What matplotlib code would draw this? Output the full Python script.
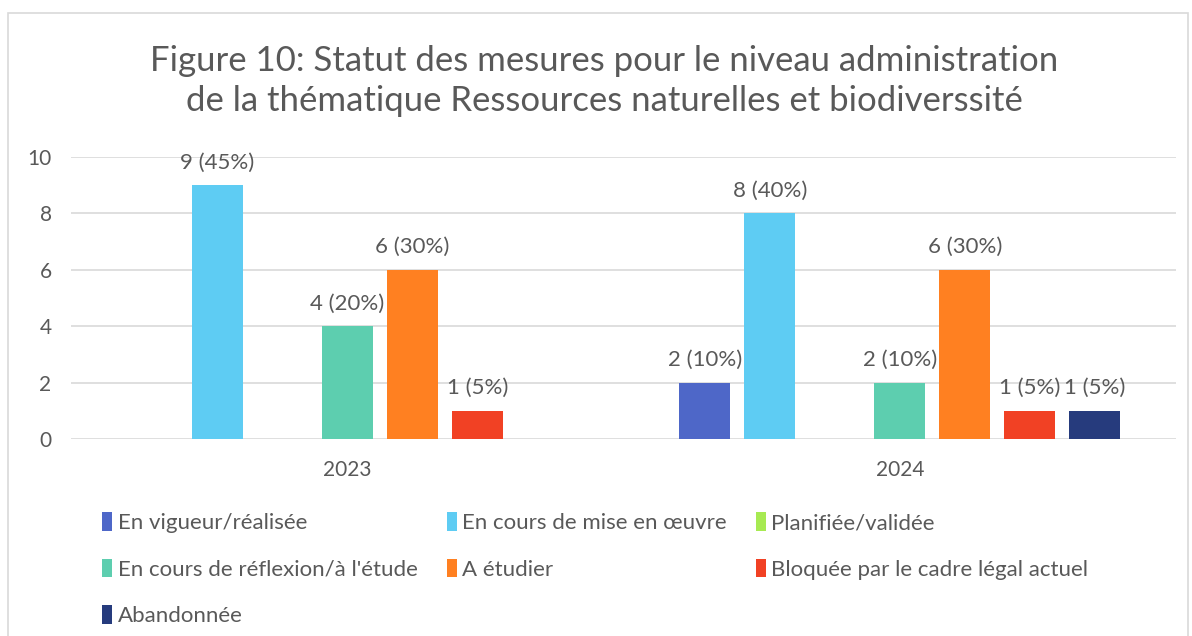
import numpy as np
import matplotlib
matplotlib.use("Agg")
from matplotlib import pyplot as plt
from matplotlib.patches import Rectangle

# données
years = ["2023", "2024"]
series = ["En vigueur/réalisée", "En cours de mise en œuvre", "Planifiée/validée",
          "En cours de réflexion/à l'étude", "A étudier",
          "Bloquée par le cadre légal actuel", "Abandonnée"]
vals_2023 = [np.nan, 9, np.nan, 4, 6, 1, np.nan]
vals_2024 = [2, 8, np.nan, 2, 6, 1, 1]
colors = ["#4E67C8", "#5ECCF3", "#A7EA52", "#5DCEAF", "#FF8021", "#F14124", "#263B7D"]
total = 20

plt.rcParams['font.family'] = ['Lato', 'DejaVu Sans']
txt = "#595959"

fig = plt.figure(figsize=(11.92, 6.36), dpi=100)
ax = fig.add_axes([0.0596, 0.3097, 0.9270, 0.4434])

data = np.array([vals_2023, vals_2024])
x = np.arange(len(years))
step = 0.1176
w = 0.0923
handles = []
for i, name in enumerate(series):
    pos = x + (i - 3) * step
    v = data[:, i]
    b = ax.bar(pos, v, width=w, color=colors[i], label=name, zorder=3)
    handles.append(b)
    for p, val in zip(pos, v):
        if not np.isnan(val):
            ax.text(p, val + 0.45, f"{int(val)} ({int(round(val / total * 100))}%)",
                    ha="center", va="bottom", fontsize=16, color=txt)

ax.set_xlim(-0.5, 1.5)
ax.set_ylim(0, 10)
ax.set_yticks(range(0, 11, 2))
ax.set_xticks(x)
ax.set_xticklabels(years)
ax.tick_params(length=0, labelsize=15, colors=txt)
ax.tick_params(axis="y", pad=14)
ax.tick_params(axis="x", pad=15)
ax.grid(axis="y", color="#D9D9D9", linewidth=1.2, zorder=0)
for s in ax.spines.values():
    s.set_visible(False)

fig.suptitle("Figure 10: Statut des mesures pour le niveau administration\n"
             "de la thématique Ressources naturelles et biodiverssité",
             x=0.507, y=0.93, fontsize=25, color=txt, linespacing=1.33)

# ordre ligne par ligne comme dans Excel
order = [0, 3, 6, 1, 4, 2, 5]
fig.legend([handles[k] for k in order], [series[k] for k in order],
           loc="upper left", bbox_to_anchor=(0.069, 0.226), ncol=3, frameon=False,
           fontsize=16, labelcolor=txt, handlelength=0.45, handleheight=0.9,
           handletextpad=0.25, columnspacing=1.3, labelspacing=1.15)

fig.patches.append(Rectangle((0.007, -0.01), 0.99, 0.99, transform=fig.transFigure,
                             fill=False, edgecolor="#D9D9D9", linewidth=1.2))

fig.savefig("out.png", dpi=100)
